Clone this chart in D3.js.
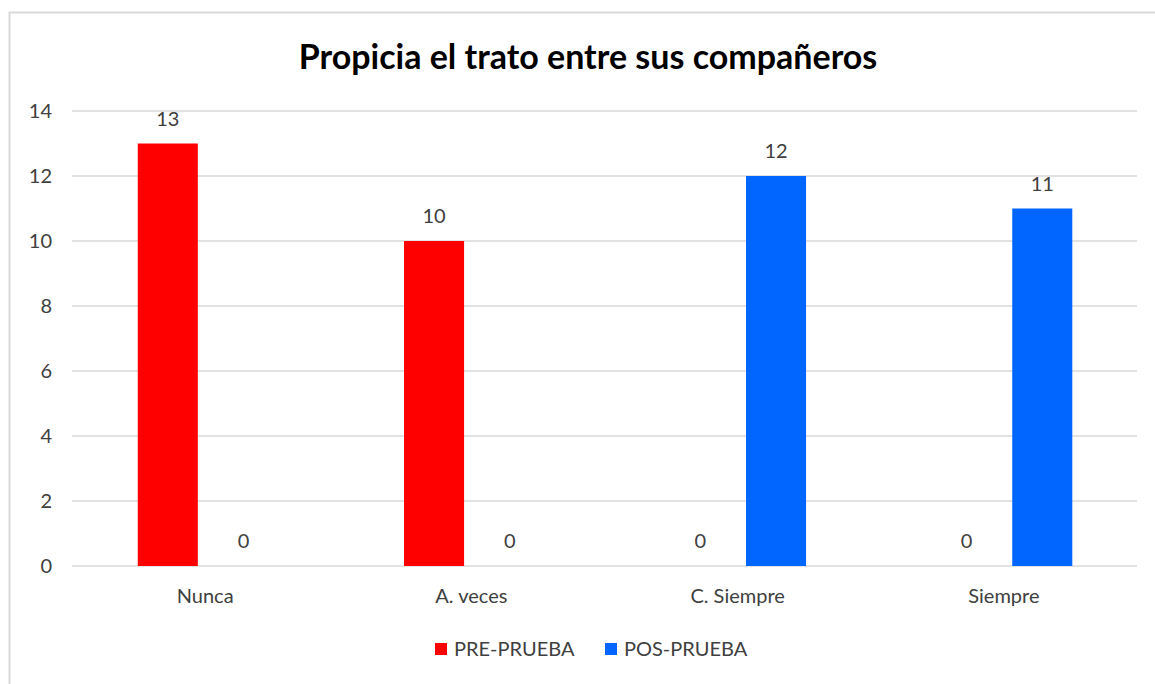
<!DOCTYPE html>
<html>
<head>
<meta charset="utf-8">
<script src="https://cdn.jsdelivr.net/npm/d3@7"></script>
<style>
  body { margin: 0; background: #fff; }
  text { font-family: Lato, "Open Sans", sans-serif; }
</style>
</head>
<body>
<script>
// chart data
var categories = ["Nunca", "A. veces", "C. Siempre", "Siempre"];
var seriesNames = ["PRE-PRUEBA", "POS-PRUEBA"];
var preValues = [13, 10, 0, 0];
var posValues = [0, 0, 12, 11];
var yTicks = [0, 2, 4, 6, 8, 10, 12, 14];
var colors = ["#ff0000", "#0066ff"];

var W = 1155, H = 684;
var margin = {top: 111, right: 18, bottom: 118, left: 72};

var svg = d3.select("body").append("svg")
  .attr("width", W)
  .attr("height", H);

// chart frame
svg.append("rect")
  .attr("x", 9.5).attr("y", 12.5)
  .attr("width", W).attr("height", H)
  .attr("fill", "#fff")
  .attr("stroke", "#d9d9d9")
  .attr("stroke-width", 2);

var x = d3.scaleBand().domain(categories)
  .range([margin.left, W - margin.right]);
// bars inside each category: gap between the pair
var xSeries = d3.scaleBand().domain(seriesNames)
  .range([x.bandwidth() * 0.247, x.bandwidth() * 0.757])
  .paddingInner(0.207).paddingOuter(0);
var y = d3.scaleLinear().domain([0, 14])
  .range([H - margin.bottom, margin.top]);

// gridlines
svg.append("g")
  .selectAll("line")
  .data(yTicks)
  .join("line")
  .attr("x1", margin.left).attr("x2", W - margin.right)
  .attr("y1", function(d){ return y(d); })
  .attr("y2", function(d){ return y(d); })
  .attr("stroke", "#d9d9d9")
  .attr("stroke-width", 1.3);

// y axis labels
var yAxis = d3.axisLeft(y).tickValues(yTicks).tickSize(0).tickPadding(20);
svg.append("g")
  .attr("transform", "translate(" + margin.left + ",0)")
  .call(yAxis)
  .call(function(g){ g.select(".domain").remove(); })
  .selectAll("text")
  .attr("font-size", 20)
  .attr("fill", "#404040")
  .attr("font-family", "Lato, sans-serif");

// x axis labels
var xAxis = d3.axisBottom(x).tickSize(0).tickPadding(23);
svg.append("g")
  .attr("transform", "translate(0," + y(0) + ")")
  .call(xAxis)
  .call(function(g){ g.select(".domain").remove(); })
  .selectAll("text")
  .attr("font-size", 20)
  .attr("fill", "#404040")
  .attr("font-family", "Lato, sans-serif");

// bars
var rows = [];
categories.forEach(function(c, i){
  rows.push({cat: c, s: seriesNames[0], v: preValues[i], col: colors[0]});
  rows.push({cat: c, s: seriesNames[1], v: posValues[i], col: colors[1]});
});

svg.append("g")
  .selectAll("rect")
  .data(rows)
  .join("rect")
  .attr("x", function(d){ return x(d.cat) + xSeries(d.s); })
  .attr("width", xSeries.bandwidth())
  .attr("y", function(d){ return y(d.v); })
  .attr("height", function(d){ return y(0) - y(d.v); })
  .attr("fill", function(d){ return d.col; });

// value labels
svg.append("g")
  .selectAll("text")
  .data(rows)
  .join("text")
  .attr("x", function(d){ return x(d.cat) + xSeries(d.s) + xSeries.bandwidth() / 2; })
  .attr("y", function(d){ return y(d.v) - 18; })
  .attr("text-anchor", "middle")
  .attr("font-size", 20)
  .attr("fill", "#404040")
  .text(function(d){ return d.v; });

// title
svg.append("text")
  .attr("x", 588).attr("y", 69)
  .attr("text-anchor", "middle")
  .attr("font-size", 34)
  .attr("font-weight", "bold")
  .attr("fill", "#000")
  .text("Propicia el trato entre sus compañeros");

// legend
var legend = svg.append("g").attr("transform", "translate(435,643)");
var legX = [0, 170];
seriesNames.forEach(function(s, i){
  legend.append("rect")
    .attr("x", legX[i]).attr("y", 0)
    .attr("width", 12).attr("height", 12)
    .attr("fill", colors[i]);
  legend.append("text")
    .attr("x", legX[i] + 19).attr("y", 13)
    .attr("font-size", 20)
    .attr("fill", "#404040")
    .text(s);
});
</script>
</body>
</html>
